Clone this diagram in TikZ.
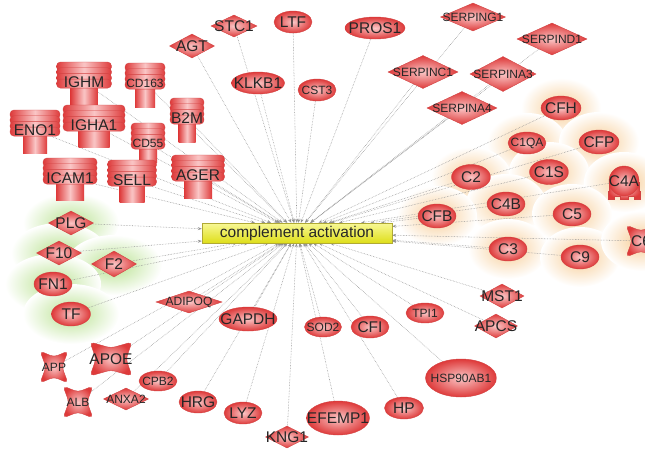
\documentclass[tikz,border=0pt]{standalone}
\usepackage{fontspec}
\setmainfont{Liberation Sans}
\usetikzlibrary{shapes.geometric, arrows.meta}

\definecolor{genein}{RGB}{250,198,198}
\definecolor{geneout}{RGB}{222,58,58}
\definecolor{geneline}{RGB}{210,66,66}
\definecolor{glowgreen}{RGB}{185,226,145}
\definecolor{gloworange}{RGB}{247,205,150}
\definecolor{hubtop}{RGB}{248,248,150}
\definecolor{hubbot}{RGB}{222,222,25}

\newcommand{\bigf}{\fontsize{15.5}{16}\selectfont}
\newcommand{\smallf}{\fontsize{12}{12}\selectfont}

\pgfdeclarelayer{glow}
\pgfdeclarelayer{edges}
\pgfsetlayers{glow,edges,main}

\tikzset{
  gene/.style={draw=geneline, line width=0.4pt, inner sep=0pt, inner color=genein, outer color=geneout},
  txt/.style={font=\bigf, text=black!85, inner sep=1pt},
  stxt/.style={font=\smallf, text=black!85, inner sep=1pt},
  ell/.style n args={3}{gene, ellipse, minimum width=#1, minimum height=#2, label={[txt]center:#3}},
  ells/.style n args={3}{gene, ellipse, minimum width=#1, minimum height=#2, label={[stxt]center:#3}},
  dia/.style n args={3}{gene, diamond, minimum width=#1, minimum height=#2, label={[txt]center:#3}},
  dias/.style n args={3}{gene, diamond, minimum width=#1, minimum height=#2, label={[stxt]center:#3}},
  disc/.style={draw=geneline, line width=0.4pt, rounded corners=4pt, left color=geneout, right color=geneout, middle color=genein},
  stem/.style={left color=geneout, right color=geneout, middle color=genein},
  hub/.style={draw=olive!70, line width=0.4pt, top color=hubtop, bottom color=hubbot, minimum width=190pt, minimum height=20pt, inner sep=0pt, font=\bigf, text=black!85},
  link/.style={densely dotted, draw=gray!85, line width=0.55pt, -{Stealth[length=4pt,width=3pt]}},
  glowg/.style={inner color=glowgreen, outer color=white},
  glowo/.style={inner color=gloworange, outer color=white},
}

% stacked protein: name, x, y, label, top width, stem width, stem bottom, text style
\newcommand{\stackgene}[8]{%
  \path[stem] ({#2-#6/2},#3) rectangle ({#2+#6/2},#7);
  \foreach \k in {0,...,3}
    \path[disc] ({#2-#5/2},{#3-20+\k*5.7}) rectangle ({#2+#5/2},{#3-11+\k*5.7});
  \node[#8] (#1) at (#2,#3) {#4};
}
% cross-shaped protein: name, x, y, label, half width, half height, text style
\newcommand{\crossgene}[7]{%
  \path[gene, rounded corners=4pt] ({#2-#5},{#3-#6}) -- (#2,{#3-#6+6}) -- ({#2+#5},{#3-#6})
    -- ({#2+#5-6},#3) -- ({#2+#5},{#3+#6}) -- (#2,{#3+#6-6}) -- ({#2-#5},{#3+#6}) -- ({#2-#5+6},#3) -- cycle;
  \node[#7] (#1) at (#2,#3) {#4};
}

\begin{document}
\begin{tikzpicture}[x=1pt, y=-1pt]
  \useasboundingbox (0,0) rectangle (645,448);
  \clip (0,0) rectangle (645,448);

  % halos
  \begin{pgfonlayer}{glow}
    \foreach \x/\y in {561/108, 527/143, 599/142, 471/177, 549/172, 624/182,
                       506/204, 437/216, 572/214, 508/249, 580/257, 641/241}
      \shade[glowo] (\x,\y) ellipse [x radius=40, y radius=30];
    \foreach \x/\y in {71/223, 59/253, 114/265, 53/284, 71/314}
      \shade[glowg] (\x,\y) ellipse [x radius=48, y radius=30];
  \end{pgfonlayer}

  \node[hub] (hub) at (297,233) {complement activation};

  % upper left stacks
  \stackgene{IGHM}{84}{82}{IGHM}{55}{27}{110}{txt}
  \stackgene{CD163}{145}{83}{CD163}{40}{20}{107}{stxt}
  \stackgene{B2M}{187}{118}{B2M}{34}{17}{142}{txt}
  \stackgene{ENO1}{35}{130}{ENO1}{50}{24}{153}{txt}
  \stackgene{IGHA1}{94}{125}{IGHA1}{62}{31}{147}{txt}
  \stackgene{CD55}{148}{143}{CD55}{34}{18}{162}{stxt}
  \stackgene{ICAM1}{70}{178}{ICAM1}{54}{28}{200}{txt}
  \stackgene{SELL}{132}{180}{SELL}{49}{25}{202}{txt}
  \stackgene{AGER}{198}{175}{AGER}{53}{28}{198}{txt}

  % top
  \node[dia={45pt}{24pt}{AGT}] (AGT) at (192,46) {};
  \node[dia={46pt}{22pt}{STC1}] (STC1) at (234,26) {};
  \node[ell={38pt}{22pt}{LTF}] (LTF) at (293,22) {};
  \node[ell={53pt}{22pt}{KLKB1}] (KLKB1) at (258,83) {};
  \node[ells={38pt}{22pt}{CST3}] (CST3) at (317,90) {};
  \node[ell={60pt}{22pt}{PROS1}] (PROS1) at (375,28) {};
  \node[dias={65pt}{28pt}{SERPING1}] (SERPING1) at (473,17) {};
  \node[dias={70pt}{32pt}{SERPIND1}] (SERPIND1) at (552,39) {};
  \node[dias={70pt}{33pt}{SERPINC1}] (SERPINC1) at (423,72) {};
  \node[dias={66pt}{35pt}{SERPINA3}] (SERPINA3) at (503,74) {};
  \node[dias={70pt}{33pt}{SERPINA4}] (SERPINA4) at (462,108) {};

  % complement cluster
  \node[ell={40pt}{24pt}{CFH}] (CFH) at (561,108) {};
  \node[ells={38pt}{22pt}{C1QA}] (C1QA) at (527,143) {};
  \node[ell={40pt}{24pt}{CFP}] (CFP) at (599,142) {};
  \node[ell={39pt}{25pt}{C2}] (C2) at (471,177) {};
  \node[ell={39pt}{25pt}{C1S}] (C1S) at (549,172) {};
  \path[gene] (609,182) -- (639,182) -- (639,191) -- (640,191) -- (640,199) -- (634,199) -- (634,196)
    -- (628,196) -- (628,199) -- (620,199) -- (620,196) -- (614,196) -- (614,199) -- (608,199)
    -- (608,191) -- (609,191) -- cycle;
  \node[gene, circle, minimum size=30pt, label={[txt]center:C4A}] (C4A) at (624,181) {};
  \node[ell={38pt}{24pt}{C4B}] (C4B) at (506,204) {};
  \node[ell={38pt}{24pt}{CFB}] (CFB) at (437,216) {};
  \node[ell={38pt}{24pt}{C5}] (C5) at (572,214) {};
  \node[ell={38pt}{24pt}{C3}] (C3) at (508,249) {};
  \node[ell={38pt}{24pt}{C9}] (C9) at (580,257) {};
  \crossgene{C6}{641}{241}{C6}{15}{16}{txt}

  % lower right
  \node[dia={44pt}{24pt}{MST1}] (MST1) at (502,296) {};
  \node[dia={43pt}{24pt}{APCS}] (APCS) at (496,326) {};
  \node[ells={38pt}{20pt}{TPI1}] (TPI1) at (425,313) {};
  \node[ell={38pt}{22pt}{CFI}] (CFI) at (370,327) {};
  \node[ells={37pt}{20pt}{SOD2}] (SOD2) at (323,327) {};
  \node[ells={71pt}{38pt}{HSP90AB1}] (HSP90AB1) at (461,378) {};
  \node[ell={39pt}{22pt}{HP}] (HP) at (404,408) {};
  \node[ell={63pt}{34pt}{EFEMP1}] (EFEMP1) at (338,418) {};
  \node[dia={43pt}{22pt}{KNG1}] (KNG1) at (287,437) {};

  % lower left
  \node[ell={58pt}{24pt}{GAPDH}] (GAPDH) at (248,319) {};
  \node[dias={66pt}{22pt}{ADIPOQ}] (ADIPOQ) at (189,302) {};
  \node[ell={38pt}{22pt}{LYZ}] (LYZ) at (243,413) {};
  \node[ell={38pt}{22pt}{HRG}] (HRG) at (198,402) {};
  \node[ells={38pt}{20pt}{CPB2}] (CPB2) at (158,381) {};
  \node[dias={45pt}{22pt}{ANXA2}] (ANXA2) at (126,399) {};
  \crossgene{APP}{54}{367}{APP}{14}{16}{stxt}
  \crossgene{APOE}{111}{359}{APOE}{21}{17}{txt}
  \crossgene{ALB}{78}{402}{ALB}{15}{16}{stxt}

  % coagulation cluster
  \node[dia={45pt}{24pt}{PLG}] (PLG) at (71,223) {};
  \node[dia={45pt}{24pt}{F10}] (F10) at (59,253) {};
  \node[dia={45pt}{26pt}{F2}] (F2) at (114,264) {};
  \node[ell={38pt}{24pt}{FN1}] (FN1) at (53,284) {};
  \node[ell={39pt}{24pt}{TF}] (TF) at (71,314) {};

  % links to the term
  \begin{pgfonlayer}{edges}
    \foreach \n in {IGHM, CD163, B2M, ENO1, IGHA1, CD55, ICAM1, SELL, AGER, AGT, STC1, LTF,
                    KLKB1, CST3, PROS1, SERPING1, SERPIND1, SERPINC1, SERPINA3, SERPINA4,
                    CFH, C1QA, CFP, C2, C1S, C4A, C4B, CFB, C5, C3, C9, C6, MST1, APCS, TPI1,
                    CFI, SOD2, HSP90AB1, HP, EFEMP1, KNG1, GAPDH, ADIPOQ, LYZ, HRG, CPB2,
                    ANXA2, APP, APOE, ALB, PLG, F10, F2, FN1, TF}
      \draw[link] (\n) -- (hub);
  \end{pgfonlayer}
\end{tikzpicture}
\end{document}
